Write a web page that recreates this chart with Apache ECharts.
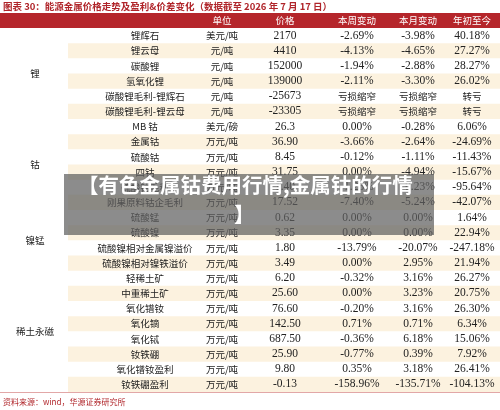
<!DOCTYPE html>
<html><head><meta charset="utf-8">
<script src="https://cdn.jsdelivr.net/npm/echarts@6/dist/echarts.min.js"></script>
<style>html,body{margin:0;padding:0;background:#fff}#c{width:500px;height:410px}</style>
</head><body><div id="c"></div>
<script>
const headers = ['单位','价格','本周变动','本月变动','年初至今'];
const groups = [['锂',0,5],['钴',6,11],['镍锰',12,15],['稀土永磁',16,23]];
const names = ['锂辉石','锂云母','碳酸锂','氢氧化锂','碳酸锂毛利-锂辉石','碳酸锂毛利-锂云母','MB 钴','金属钴','硫酸钴','四钴','硫酸钴毛利','刚果原料钴企毛利','硫酸锰','硫酸镍','硫酸镍相对金属镍溢价','硫酸镍相对镍铁溢价','轻稀土矿','中重稀土矿','氧化镨钕','氧化镝','氧化铽','钕铁硼','氧化镨钕盈利','钕铁硼盈利'];
const units = ['美元/吨','元/吨','元/吨','元/吨','元/吨','元/吨','美元/磅','万元/吨','万元/吨','万元/吨','万元/吨','万元/吨','万元/吨','万元/吨','万元/吨','万元/吨','万元/吨','万元/吨','万元/吨','万元/吨','万元/吨','万元/吨','万元/吨','万元/吨'];
const prices = ['2170','4410','152000','139000','-25673','-23305','26.3','36.90','8.45','31.75','1.40','17.52','0.62','3.35','1.80','3.49','6.20','25.60','76.60','142.50','687.50','25.90','9.80','-0.13'];
const week = ['-2.69%','-4.13%','-1.94%','-2.11%','亏损缩窄','亏损缩窄','0.00%','-3.66%','-0.12%','0.00%','-1.25%','-7.40%','0.00%','0.00%','-13.79%','0.00%','-0.32%','0.00%','-0.20%','0.71%','-0.36%','-0.77%','0.35%','-158.96%'];
const month = ['-3.98%','-4.65%','-2.88%','-3.30%','亏损缩窄','亏损缩窄','-0.28%','-2.64%','-1.11%','-4.94%','-8.23%','-5.24%','0.00%','0.00%','-20.07%','2.95%','3.16%','3.23%','3.16%','0.71%','6.18%','0.39%','3.18%','-135.71%'];
const ytd = ['40.18%','27.27%','28.27%','26.02%','转亏','转亏','6.06%','-24.69%','-11.43%','-15.67%','-95.64%','-42.07%','1.64%','22.94%','-247.18%','21.94%','26.27%','20.75%','26.30%','6.34%','15.06%','7.92%','26.41%','-104.13%'];

const colX = [145,222,285,357,418,472];
const serif = '"Liberation Serif","DejaVu Serif",serif';
const cjk = '"Noto Sans CJK SC",sans-serif';
const isNum = s => /^[-0-9.%]+$/.test(s);
const chart = echarts.init(document.getElementById('c'));
const rows = names.map((n,i)=>[0,i]);
function cellText(x,y,s){
  const num = isNum(s);
  return {type:'text',x:x,y:y,style:{text:s,align:'center',verticalAlign:'middle',fill:'#222',
    font: num ? '11.5px '+serif : '9.5px '+cjk}};
}
chart.setOption({
  animation:false,
  grid:{left:0,right:0,top:28,bottom:18},
  xAxis:{type:'value',min:0,max:1,show:false},
  yAxis:{type:'category',data:names,inverse:true,show:false},
  series:[
    {type:'custom',z:1,data:rows,renderItem:function(p,api){
      const i=api.value(1); const c=api.coord([0,i]); const h=api.size([0,1])[1];
      const ch=[];
      if(i%2===1) ch.push({type:'rect',shape:{x:68,y:c[1]-h/2,width:432,height:h},style:{fill:'#fcf2df'}});
      ch.push(cellText(colX[0],c[1],names[i]));
      ch.push(cellText(colX[1],c[1],units[i]));
      ch.push(cellText(colX[2],c[1],prices[i]));
      ch.push(cellText(colX[3],c[1],week[i]));
      ch.push(cellText(colX[4],c[1],month[i]));
      ch.push(cellText(colX[5],c[1],ytd[i]));
      return {type:'group',children:ch};
    }},
    {type:'custom',z:1,data:groups.map(g=>[0,g[1],g[2]]),renderItem:function(p,api){
      const g=groups[p.dataIndex]; const a=api.coord([0,g[1]]); const b=api.coord([0,g[2]]);
      return {type:'text',x:35,y:(a[1]+b[1])/2,style:{text:g[0],align:'center',verticalAlign:'middle',fill:'#222',font:'9.5px '+cjk}};
    }}
  ],
  graphic:{elements:[
    {type:'text',x:3,y:2,z:50,style:{text:'图表 30：能源金属价格走势及盈利&价差变化（数据截至 2026 年 7 月 17 日）',fill:'#b0252a',font:'bold 9.5px '+cjk}},
    {type:'rect',z:50,shape:{x:0,y:13,width:500,height:15},style:{fill:'#b5262b'}},
    ...headers.map((h,k)=>({type:'text',z:51,x:colX[k+1],y:20.5,style:{text:h,align:'center',verticalAlign:'middle',fill:'#fff',font:'9.5px '+cjk}})),
    {type:'rect',z:50,shape:{x:0,y:392,width:500,height:0.8},style:{fill:'#d98a8a'}},
    {type:'text',z:50,x:3,y:398,style:{text:'资料来源：wind，华源证券研究所',fill:'#b0252a',font:'8px '+cjk}},
    {type:'rect',z:100,shape:{x:64,y:174,width:370,height:61},style:{fill:'rgba(95,95,95,0.72)'}},
    {type:'text',z:101,x:78,y:175,style:{text:'【有色金属钴费用行情,金属钴的行情',fill:'#fff',font:'bold 20.5px '+cjk}},
    {type:'text',z:101,x:234,y:204,style:{text:'】',fill:'#fff',font:'bold 20.5px '+cjk}}
  ]}
});
</script></body></html>
